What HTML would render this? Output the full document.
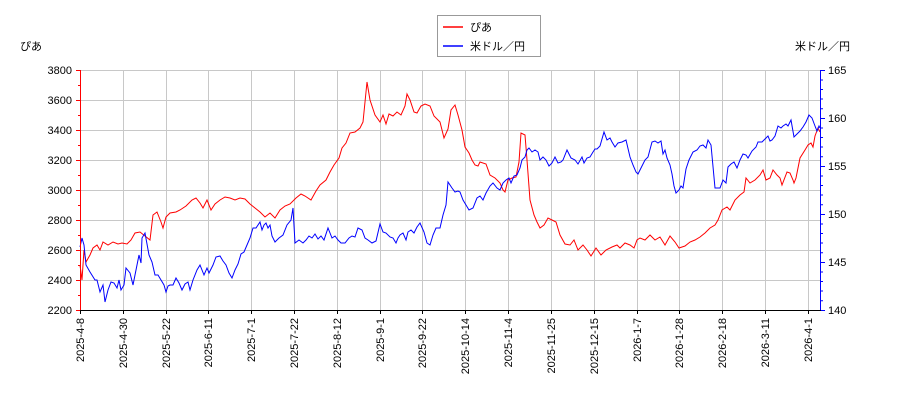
<!DOCTYPE html>
<html><head><meta charset="utf-8"><style>
body{margin:0;background:#fff}
svg text{font-family:"Liberation Sans","Noto Sans CJK JP",sans-serif;font-size:11px;fill:#000}
</style></head><body>
<svg width="900" height="400" xmlns="http://www.w3.org/2000/svg">
<g stroke="#c8c8c8" stroke-width="1">
<line x1="80" y1="70.5" x2="820" y2="70.5"/><line x1="80" y1="100.5" x2="820" y2="100.5"/><line x1="80" y1="130.5" x2="820" y2="130.5"/><line x1="80" y1="160.5" x2="820" y2="160.5"/><line x1="80" y1="190.5" x2="820" y2="190.5"/><line x1="80" y1="220.5" x2="820" y2="220.5"/><line x1="80" y1="250.5" x2="820" y2="250.5"/><line x1="80" y1="280.5" x2="820" y2="280.5"/>
<line x1="123.5" y1="70" x2="123.5" y2="310"/><line x1="166.5" y1="70" x2="166.5" y2="310"/><line x1="208.5" y1="70" x2="208.5" y2="310"/><line x1="251.5" y1="70" x2="251.5" y2="310"/><line x1="294.5" y1="70" x2="294.5" y2="310"/><line x1="337.5" y1="70" x2="337.5" y2="310"/><line x1="380.5" y1="70" x2="380.5" y2="310"/><line x1="422.5" y1="70" x2="422.5" y2="310"/><line x1="465.5" y1="70" x2="465.5" y2="310"/><line x1="508.5" y1="70" x2="508.5" y2="310"/><line x1="551.5" y1="70" x2="551.5" y2="310"/><line x1="594.5" y1="70" x2="594.5" y2="310"/><line x1="637.5" y1="70" x2="637.5" y2="310"/><line x1="679.5" y1="70" x2="679.5" y2="310"/><line x1="722.5" y1="70" x2="722.5" y2="310"/><line x1="765.5" y1="70" x2="765.5" y2="310"/><line x1="808.5" y1="70" x2="808.5" y2="310"/>
</g>
<polyline fill="none" stroke="#f00" stroke-width="1" points="80,265 82,280 84,250 86,262 90,255 93,248 97,245 100,250 103,242 108,245 113,242 118,244 122,243 127,244 131,240 135,233 140,232 145,236 150,240 153,215 157,212 161,222 163,228 166,217 170,213 176,212 180,210 186,206 192,200 196,198 200,203 203,208 207,200 211,210 215,204 220,200 225,197 230,198 235,200 240,198 245,199 250,204 255,208 260,212 265,217 270,213 275,218 280,210 285,206 290,204 296,198 301,194 305,196 311,200 316,191 320,185 326,180 330,172 334,165 339,158 342,148 346,143 350,133 355,132 360,128 363,122 367,82 370,100 375,115 380,122 383,115 386,124 389,114 393,116 397,112 401,115 405,106 407,94 410,100 414,112 417,113 421,106 425,104 430,106 434,116 440,122 444,138 448,129 451,110 455,105 458,115 462,130 465,147 469,153 472,160 475,165 478,166 480,162 486,164 490,175 495,178 500,183 503,190 505,192 508,180 512,178 516,177 519,162 521,133 525,135 527,160 530,200 534,215 537,222 540,228 544,225 548,218 552,220 556,222 560,235 565,244 570,245 574,240 578,250 583,245 587,250 591,256 596,248 601,255 606,250 612,247 617,245 620,248 625,243 630,245 634,248 637,240 640,238 645,240 650,235 655,240 660,237 665,245 670,236 675,242 679,248 685,246 690,242 695,240 700,237 705,233 710,228 715,225 718,220 722,210 727,207 730,210 735,200 740,195 744,192 746,178 750,183 755,180 760,175 763,170 766,180 770,178 773,170 777,175 780,178 782,185 787,172 790,173 793,180 794,183 796,178 800,158 805,150 808,145 811,143 813,147 815,136 818,128 820,132"/>
<polyline fill="none" stroke="#00f" stroke-width="1" points="80,247 82,238 84,245 86,265 90,272 95,280 97,280 100,292 103,285 105,302 108,290 111,282 114,283 117,288 119,280 121,290 124,285 126,268 130,273 133,285 136,270 139,255 141,263 142,238 145,233 149,255 152,262 155,275 158,275 161,280 164,285 166,292 168,286 170,285 173,285 176,278 179,283 182,290 185,284 188,282 190,290 193,280 197,270 200,265 204,275 207,268 209,273 213,265 216,257 220,256 223,261 226,265 229,273 232,278 235,270 238,264 241,254 244,252 247,245 250,238 253,228 256,228 260,222 262,230 264,225 266,223 268,228 270,225 272,236 275,242 279,238 283,235 287,225 291,220 293,208 295,243 299,240 303,243 306,240 309,236 312,238 315,234 318,239 321,236 324,240 328,228 332,238 335,236 338,240 341,243 345,243 349,238 352,236 355,237 358,228 362,230 365,238 368,240 372,243 376,241 380,224 383,232 386,233 390,237 393,238 396,243 398,238 400,235 403,233 406,240 408,232 411,230 414,233 417,227 420,223 424,232 427,243 430,245 433,235 436,228 440,228 443,215 446,205 448,182 452,188 455,192 458,191 460,192 463,200 466,205 469,210 473,208 477,198 480,196 483,200 486,193 490,186 493,183 497,188 500,190 503,183 506,180 509,178 511,183 514,176 517,175 520,168 522,160 525,157 527,150 529,148 532,152 535,150 538,152 540,160 543,157 546,160 549,166 552,163 555,157 558,163 561,162 563,160 567,150 571,158 575,160 578,164 582,157 584,163 587,158 590,157 593,152 595,149 597,149 600,146 604,132 607,140 610,138 612,142 615,147 618,143 622,142 626,140 630,157 633,165 636,172 638,174 642,166 645,160 648,157 652,142 655,141 658,143 661,141 663,154 665,150 667,158 670,165 672,174 674,186 676,193 679,190 681,186 683,188 686,169 689,160 693,152 697,150 700,146 703,145 706,148 708,140 711,145 715,188 720,188 723,180 726,183 728,167 731,164 734,162 737,168 740,160 743,154 746,155 748,158 752,151 756,147 758,142 762,142 765,139 768,136 770,141 772,140 775,136 778,126 781,128 783,126 786,124 788,126 791,120 794,137 797,134 800,131 803,127 806,122 809,115 812,118 815,126 817,131 819,126 820,128"/>
<line x1="80.5" y1="70" x2="80.5" y2="310" stroke="#f00"/>
<line x1="820.5" y1="70" x2="820.5" y2="310" stroke="#00f"/>
<line x1="80" y1="310.5" x2="821" y2="310.5" stroke="#000"/>
<g stroke="#f00"><path d="M76 70.5h4M76 100.5h4M76 130.5h4M76 160.5h4M76 190.5h4M76 220.5h4M76 250.5h4M76 280.5h4M76 310.5h4M78 85.5h2M78 115.5h2M78 145.5h2M78 175.5h2M78 205.5h2M78 235.5h2M78 265.5h2M78 295.5h2"/></g>
<g stroke="#00f"><path d="M821 70.5h4M821 118.5h4M821 166.5h4M821 214.5h4M821 262.5h4M821 310.5h4"/>
<path d="M821 80h2M821 89.5h2M821 99h2M821 108.7h2M821 128h2M821 137.5h2M821 147h2M821 156.7h2M821 176h2M821 185.5h2M821 195h2M821 204.7h2M821 224h2M821 233.5h2M821 243h2M821 252.7h2M821 272h2M821 281.5h2M821 291h2M821 300.7h2"/></g>
<g stroke="#000"><path d="M80.5 310v4M123.5 310v4M166.5 310v4M208.5 310v4M251.5 310v4M294.5 310v4M337.5 310v4M380.5 310v4M422.5 310v4M465.5 310v4M508.5 310v4M551.5 310v4M594.5 310v4M637.5 310v4M679.5 310v4M722.5 310v4M765.5 310v4M808.5 310v4"/></g>
<g text-anchor="end">
<text x="72" y="74">3800</text><text x="72" y="104">3600</text><text x="72" y="134">3400</text><text x="72" y="164">3200</text><text x="72" y="194">3000</text><text x="72" y="224">2800</text><text x="72" y="254">2600</text><text x="72" y="284">2400</text><text x="72" y="314">2200</text>
</g>
<g>
<text x="828" y="74">165</text><text x="828" y="122">160</text><text x="828" y="170">155</text><text x="828" y="218">150</text><text x="828" y="266">145</text><text x="828" y="314">140</text>
</g>
<text x="20" y="50">ぴあ</text>
<text x="850" y="50" text-anchor="end">米ドル／円</text>
<g text-anchor="end">
<text transform="translate(84,318) rotate(-90)">2025-4-8</text>
<text transform="translate(127,318) rotate(-90)">2025-4-30</text>
<text transform="translate(170,318) rotate(-90)">2025-5-22</text>
<text transform="translate(212,318) rotate(-90)">2025-6-11</text>
<text transform="translate(255,318) rotate(-90)">2025-7-1</text>
<text transform="translate(298,318) rotate(-90)">2025-7-22</text>
<text transform="translate(341,318) rotate(-90)">2025-8-12</text>
<text transform="translate(384,318) rotate(-90)">2025-9-1</text>
<text transform="translate(426,318) rotate(-90)">2025-9-22</text>
<text transform="translate(469,318) rotate(-90)">2025-10-14</text>
<text transform="translate(512,318) rotate(-90)">2025-11-4</text>
<text transform="translate(555,318) rotate(-90)">2025-11-25</text>
<text transform="translate(598,318) rotate(-90)">2025-12-15</text>
<text transform="translate(641,318) rotate(-90)">2026-1-7</text>
<text transform="translate(683,318) rotate(-90)">2026-1-28</text>
<text transform="translate(726,318) rotate(-90)">2026-2-18</text>
<text transform="translate(769,318) rotate(-90)">2026-3-11</text>
<text transform="translate(812,318) rotate(-90)">2026-4-1</text>
</g>
<rect x="437.5" y="15.5" width="103" height="41" fill="#fff" stroke="#999"/>
<line x1="443" y1="27" x2="463" y2="27" stroke="#f00" stroke-width="1.5"/>
<text x="470" y="31">ぴあ</text>
<line x1="443" y1="46" x2="463" y2="46" stroke="#00f" stroke-width="1.5"/>
<text x="470" y="50">米ドル／円</text>
</svg>
</body></html>
